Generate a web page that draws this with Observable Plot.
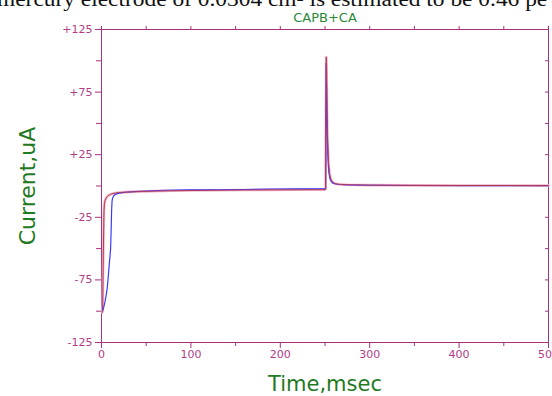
<!DOCTYPE html>
<html>
<head>
<meta charset="utf-8">
<script src="https://cdn.jsdelivr.net/npm/d3@7"></script>
<script src="https://cdn.jsdelivr.net/npm/@observablehq/plot@0.6"></script>
<style>
  html, body { margin: 0; padding: 0; background: #fff; overflow: hidden; }
  #wrap { position: relative; width: 552px; height: 396px; overflow: hidden; }
  #doc { position: absolute; top: -12px; left: -3px; z-index: 2; white-space: nowrap;
         font: 20px "Liberation Serif", "DejaVu Serif", serif; color: #111;
         transform: scaleX(1.17); transform-origin: 0 0; }
</style>
</head>
<body>
<div id="wrap"><div id="doc">mercury electrode of 0.0304 cm² is estimated to be 0.46 pe</div></div>
<script>
// ---- data ----
const chartTitle = "CAPB+CA";
const xLabel = "Time,msec";
const yLabel = "Current,uA";

const redTime    = [0.8, 1.3, 1.6, 2.0, 2.4, 2.8, 3.3, 4, 5, 6.5, 8, 10, 12, 15, 20, 27, 40, 60, 80, 100, 130, 160, 190, 220, 250, 250.6, 251, 251.4, 251.8, 252.3, 253, 254, 255, 256.5, 258.5, 261, 265, 275, 300, 350, 400, 450, 500];
const redCurrent = [-101, -95, -80, -55, -35, -20, -14, -11.5, -9.8, -8.4, -7.5, -6.7, -6.2, -5.7, -5.2, -4.9, -4.5, -4.1, -3.8, -3.6, -3.4, -3.2, -3.1, -3.0, -2.9, -2.8, 60, 103, 96, 60, 35, 18, 10, 5.5, 3, 2, 1.4, 1.0, 0.7, 0.5, 0.4, 0.4, 0.3];

const blueTime    = [1.2, 2.5, 4, 5.5, 6.5, 7.5, 8.5, 9.5, 10.2, 10.8, 11.3, 11.8, 12.5, 13.5, 15, 17, 20, 27, 35, 50, 70, 100, 130, 160, 190, 220, 250, 250.8, 251.2, 251.7, 252.3, 253.2, 254.2, 255.5, 257, 259, 262, 266, 275, 300, 350, 400, 450, 500];
const blueCurrent = [-100, -97, -92, -86, -81, -73, -64, -56, -50, -35, -20, -12, -9.5, -8, -7, -6.3, -5.7, -5, -4.5, -4, -3.4, -3.1, -3.0, -2.8, -2.4, -2.3, -2.2, -2, 98, 80, 51, 24.5, 12, 6, 3.5, 2.2, 1.6, 1.2, 0.9, 0.6, 0.4, 0.3, 0.3, 0.3];

const yLabelTicks = [125, 75, 25, -25, -75, -125];
const yMinorTicks = [100, 50, 0, -50, -100];
const xLabelTicks = [0, 100, 200, 300, 400, 500];
const xMinorTicks = [50, 150, 250, 350, 450];

// ---- build tables ----
const red = redTime.map((t, i) => ({t, c: redCurrent[i]}));
const blue = blueTime.map((t, i) => ({t, c: blueCurrent[i]}));

const axisCol = "#a8327e";
const textCol = "#b23c87";
const green = "#1f7a22";
const font = "DejaVu Sans, Verdana, sans-serif";
const allY = yLabelTicks.concat(yMinorTicks);
const allX = xLabelTicks.concat(xMinorTicks);

const chart = Plot.plot({
  width: 552,
  height: 396,
  marginLeft: 101,
  marginRight: 4,
  marginTop: 29,
  marginBottom: 54,
  style: {fontFamily: font, fontSize: "11px", background: "transparent", overflow: "visible"},
  x: {domain: [0, 500], axis: null},
  y: {domain: [-125, 125], axis: null},
  marks: [
    Plot.frame({stroke: axisCol, strokeWidth: 1}),
    // left axis
    Plot.axisY({anchor: "left", ticks: yLabelTicks, tickSize: 6, tickPadding: 3,
      tickFormat: d => (d > 0 ? "+" : "") + d, stroke: axisCol, fill: textCol, label: null}),
    Plot.axisY({anchor: "left", ticks: yMinorTicks, tickSize: 5, tickFormat: () => "",
      stroke: axisCol, label: null}),
    // right axis (inward ticks)
    Plot.axisY({anchor: "right", ticks: allY, tickSize: -4, tickFormat: () => "",
      stroke: axisCol, label: null}),
    // top axis
    Plot.axisX({anchor: "top", ticks: allX, tickSize: 4, tickFormat: () => "",
      stroke: axisCol, label: null}),
    // bottom axis
    Plot.axisX({anchor: "bottom", ticks: xLabelTicks, tickSize: 6, tickPadding: 2,
      stroke: axisCol, fill: textCol, label: null}),
    Plot.axisX({anchor: "bottom", ticks: xMinorTicks, tickSize: 4, tickFormat: () => "",
      stroke: axisCol, label: null}),
    // curves
    Plot.line(red, {x: "t", y: "c", stroke: "#f2b4c6", strokeWidth: 2.6, curve: "linear"}),
    Plot.line(blue, {x: "t", y: "c", stroke: "#3a3aff", strokeWidth: 1.2, curve: "linear"}),
    Plot.line(red, {x: "t", y: "c", stroke: "#b03c5c", strokeWidth: 1, curve: "linear"}),
    // texts
    Plot.text([chartTitle], {frameAnchor: "top", dy: -12, text: d => d, fill: "#2a8a3a",
      fontSize: 13, lineAnchor: "middle", textAnchor: "middle"}),
    Plot.text([xLabel], {frameAnchor: "bottom", dy: 42, text: d => d, fill: green,
      fontSize: 21, lineAnchor: "middle", textAnchor: "middle"}),
    Plot.text([yLabel], {frameAnchor: "left", dx: -74, rotate: -90, text: d => d, fill: green,
      fontSize: 22, lineAnchor: "middle", textAnchor: "middle"})
  ]
});
document.getElementById("wrap").appendChild(chart);
chart.style.position = "absolute";
chart.style.left = "0px";
chart.style.top = "0px";
</script>
</body>
</html>
